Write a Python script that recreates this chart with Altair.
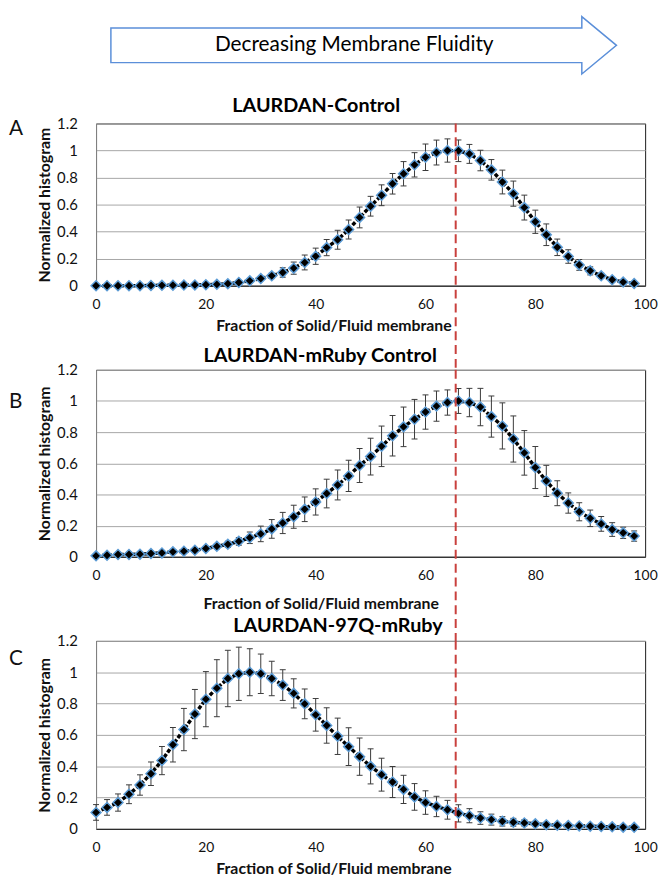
import altair as alt
import pandas as pd

# ---------------- data ----------------
X_POS = [0, 2, 4, 6, 8, 10, 12, 14, 16, 18,
         20, 22, 24, 26, 28, 30, 32, 34, 36, 38,
         40, 42, 44, 46, 48, 50, 52, 54, 56, 58,
         60, 62, 64, 66, 68, 70, 72, 74, 76, 78,
         80, 82, 84, 86, 88, 90, 92, 94, 96, 98]

A_VAL = [0.0, 0.0, 0.0, 0.0, 0.0, 0.002, 0.003, 0.004, 0.005, 0.006,
         0.007, 0.01, 0.015, 0.024, 0.036, 0.053, 0.073, 0.098, 0.13, 0.172,
         0.218, 0.282, 0.34, 0.416, 0.505, 0.588, 0.669, 0.754, 0.828, 0.894,
         0.95, 0.985, 1.0, 0.998, 0.975, 0.926, 0.857, 0.767, 0.681, 0.578,
         0.473, 0.377, 0.284, 0.216, 0.154, 0.11, 0.073, 0.044, 0.027, 0.017]
A_ERR = [0.002, 0.002, 0.002, 0.002, 0.002, 0.002, 0.003, 0.003, 0.003, 0.004,
         0.004, 0.005, 0.007, 0.01, 0.012, 0.015, 0.02, 0.035, 0.045, 0.055,
         0.06, 0.06, 0.07, 0.07, 0.077, 0.073, 0.077, 0.076, 0.09, 0.09,
         0.098, 0.092, 0.086, 0.08, 0.07, 0.076, 0.076, 0.088, 0.093, 0.092,
         0.086, 0.08, 0.061, 0.05, 0.04, 0.03, 0.02, 0.015, 0.01, 0.01]

B_VAL = [0.006, 0.01, 0.015, 0.015, 0.017, 0.021, 0.025, 0.032, 0.036, 0.042,
         0.053, 0.067, 0.08, 0.099, 0.122, 0.147, 0.179, 0.217, 0.257, 0.305,
         0.352, 0.406, 0.461, 0.519, 0.586, 0.643, 0.709, 0.777, 0.834, 0.883,
         0.929, 0.967, 0.99, 1.0, 0.99, 0.961, 0.9, 0.84, 0.756, 0.667,
         0.573, 0.487, 0.408, 0.345, 0.289, 0.247, 0.211, 0.175, 0.154, 0.133]
B_ERR = [0.002, 0.003, 0.004, 0.004, 0.005, 0.006, 0.007, 0.008, 0.009, 0.01,
         0.013, 0.016, 0.02, 0.025, 0.037, 0.05, 0.06, 0.068, 0.074, 0.079,
         0.084, 0.092, 0.096, 0.1, 0.109, 0.118, 0.13, 0.13, 0.127, 0.127,
         0.11, 0.097, 0.081, 0.08, 0.091, 0.12, 0.132, 0.148, 0.148, 0.143,
         0.135, 0.1, 0.08, 0.065, 0.058, 0.053, 0.047, 0.044, 0.036, 0.033]

C_VAL = [0.105, 0.137, 0.168, 0.221, 0.28, 0.352, 0.436, 0.537, 0.634, 0.733,
         0.828, 0.898, 0.96, 0.99, 1.0, 0.99, 0.96, 0.918, 0.865, 0.798,
         0.728, 0.66, 0.591, 0.525, 0.461, 0.399, 0.346, 0.299, 0.252, 0.204,
         0.168, 0.143, 0.122, 0.099, 0.084, 0.069, 0.059, 0.048, 0.042, 0.038,
         0.032, 0.027, 0.023, 0.021, 0.019, 0.017, 0.015, 0.013, 0.011, 0.01]
C_ERR = [0.05, 0.05, 0.055, 0.06, 0.065, 0.075, 0.09, 0.11, 0.135, 0.157,
         0.176, 0.182, 0.18, 0.17, 0.15, 0.126, 0.11, 0.098, 0.093, 0.095,
         0.104, 0.113, 0.116, 0.12, 0.119, 0.112, 0.105, 0.099, 0.09, 0.085,
         0.075, 0.065, 0.06, 0.055, 0.045, 0.04, 0.035, 0.03, 0.025, 0.02,
         0.015, 0.012, 0.01, 0.008, 0.007, 0.006, 0.005, 0.005, 0.004, 0.004]

REF_X = [65.5]
TITLES = ["LAURDAN-Control", "LAURDAN-mRuby Control", "LAURDAN-97Q-mRuby"]
LETTERS = ["A", "B", "C"]
ARROW_TEXT = ["Decreasing Membrane Fluidity"]
X_TITLE = "Fraction of Solid/Fluid membrane"
Y_TITLE = "Normalized histogram"
X_TICKS = [0, 20, 40, 60, 80, 100]
Y_TICKS = [0, 0.2, 0.4, 0.6, 0.8, 1.0, 1.2]

# ---------------- style ----------------
FONT = "Lato"
TXT = "#111111"
ERR_C = "#3a3a3a"
PT_STROKE = "#5b9bd5"
RED = "#c9403d"
ARROW_C = "#5b8fd9"
W = 555
SPACING = 85
ARROW_PATH = ("M -1 -0.0685 L 0.863 -0.0685 L 0.863 -0.1135 L 1 0 "
              "L 0.863 0.1135 L 0.863 0.0685 L -1 0.0685 Z")


def x_enc(field, tx, ty):
    return alt.X(
        f"{field}:Q",
        scale=alt.Scale(domain=[0, 100], nice=False, zero=False),
        axis=alt.Axis(values=X_TICKS, title=X_TITLE, grid=False, ticks=False, tickSize=0,
                      labelPadding=12, labelFont=FONT, labelFontSize=14, labelColor=TXT,
                      labelFlush=False, domainColor="#1a1a1a",
                      titleFont=FONT, titleFontSize=16, titleFontWeight="bold",
                      titleColor=TXT, titleX=tx, titleY=ty,
                      titleBaseline="alphabetic", titleAlign="center"),
    )


def y_enc(field, h):
    return alt.Y(
        f"{field}:Q",
        scale=alt.Scale(domain=[0, 1.2], nice=False),
        axis=alt.Axis(values=Y_TICKS, format=".1~f", title=Y_TITLE, grid=True,
                      gridColor="#a6a6a6", gridWidth=1, ticks=False, tickSize=0,
                      labelPadding=19, labelFont=FONT, labelFontSize=15, labelColor=TXT,
                      domainColor="#868686",
                      titleFont=FONT, titleFontSize=16, titleFontWeight="bold",
                      titleColor=TXT, titleX=-52, titleY=h / 2, titleAngle=270,
                      titleAlign="center", titleBaseline="middle"),
    )


def panel(vals, errs, title, letter, h, tdx, toff, tx, ty, ly, rule_ext):
    df = pd.DataFrame({
        "x": X_POS,
        "y": vals,
        "lo": [v - e for v, e in zip(vals, errs)],
        "hi": [v + e for v, e in zip(vals, errs)],
    })
    base = alt.Chart(df)
    X = x_enc("x", tx, ty)
    bars = base.mark_rule(color=ERR_C, strokeWidth=1).encode(x=X, y=y_enc("lo", h), y2="hi:Q")
    cap_lo = base.mark_tick(orient="horizontal", size=6, thickness=1, color=ERR_C,
                            opacity=1).encode(x=X, y=y_enc("lo", h))
    cap_hi = base.mark_tick(orient="horizontal", size=6, thickness=1, color=ERR_C,
                            opacity=1).encode(x=X, y=y_enc("hi", h))
    line = base.mark_line(color="black", strokeWidth=3.5, strokeDash=[4, 2]).encode(
        x=X, y=y_enc("y", h))
    pts = base.mark_point(shape="diamond", filled=True, fill="black", stroke=PT_STROKE,
                          strokeWidth=1.5, size=100, opacity=1).encode(x=X, y=y_enc("y", h))
    lab = alt.Chart(pd.DataFrame({"t": [letter]})).mark_text(
        font=FONT, fontSize=21, align="left", baseline="middle", color=TXT
    ).encode(text="t:N", x=alt.value(-88), y=alt.value(ly))
    ref = alt.Chart(pd.DataFrame({"x": REF_X})).mark_rule(
        color=RED, strokeWidth=2, strokeDash=[9, 5]
    ).encode(x=X, y=alt.value(0), y2=alt.value(h + rule_ext))
    return alt.layer(bars, cap_lo, cap_hi, line, pts, lab, ref).properties(
        width=W, height=h,
        title=alt.TitleParams(text=title, font=FONT, fontSize=20, fontWeight="bold",
                              color="black", anchor="middle", frame="group", dx=tdx,
                              offset=toff, baseline="alphabetic"),
    )


arrow_df = pd.DataFrame({"t": ARROW_TEXT})
arrow_shape = alt.Chart(arrow_df).mark_point(
    shape=ARROW_PATH, size=511 ** 2, filled=True, fill="white", stroke=ARROW_C,
    strokeWidth=1.5, opacity=1
).encode(x=alt.value(270.5), y=alt.value(29))
arrow_text = alt.Chart(arrow_df).mark_text(
    font=FONT, fontSize=21, color="black", align="center", baseline="middle"
).encode(text="t:N", x=alt.value(261), y=alt.value(29))
arrow = alt.layer(arrow_shape, arrow_text).properties(
    width=W, height=23, view=alt.ViewBackground(stroke="transparent"))

pA = panel(A_VAL, A_ERR, TITLES[0], LETTERS[0], 164, -55, -15, 240, 45, 6, SPACING)
pB = panel(B_VAL, B_ERR, TITLES[1], LETTERS[1], 189, -51, -19, 227, 52, 33, SPACING)
pC = panel(C_VAL, C_ERR, TITLES[2], LETTERS[2], 190, -33, -18, 240, 45, 18, 0)

chart = alt.vconcat(arrow, pA, pB, pC, spacing=SPACING, bounds="flush").properties(
    padding=0, background="white"
).configure(font=FONT, view=alt.ViewConfig(stroke="#1a1a1a", strokeWidth=1))

chart.save("out.html", embed_options={"renderer": "svg", "actions": False})
